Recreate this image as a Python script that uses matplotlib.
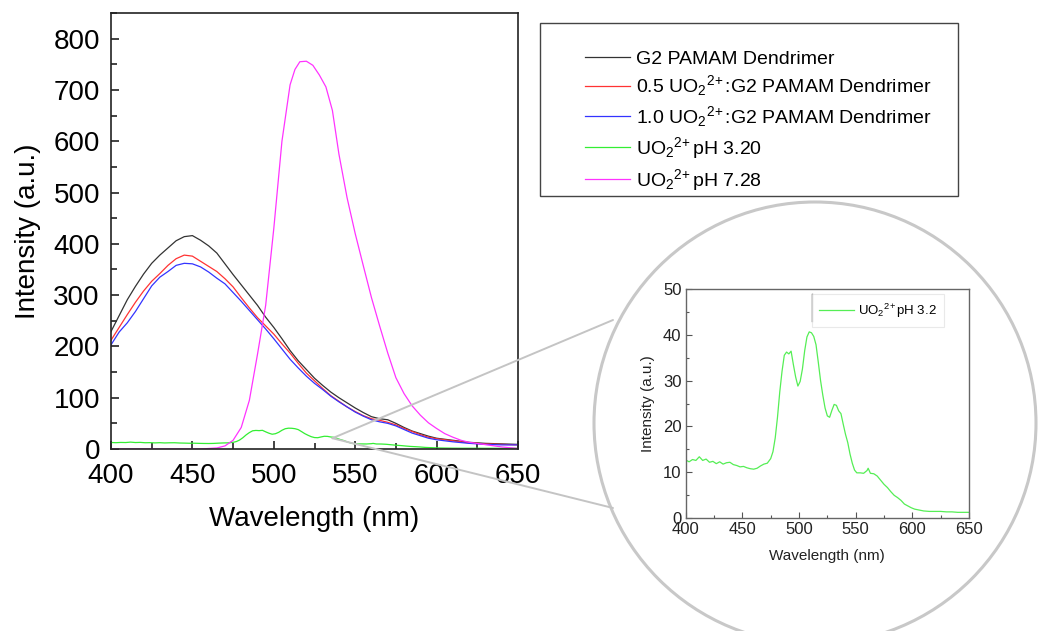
import matplotlib
matplotlib.use('Agg')
import matplotlib.pyplot as plt
from matplotlib.patches import Rectangle, Ellipse, ConnectionPatch
from matplotlib.ticker import MultipleLocator

plt.rcParams['font.family'] = ['Liberation Sans', 'DejaVu Sans']
plt.rcParams['mathtext.fontset'] = 'custom'
plt.rcParams['mathtext.rm'] = 'Liberation Sans'
plt.rcParams['mathtext.it'] = 'Liberation Sans:italic'
plt.rcParams['mathtext.bf'] = 'Liberation Sans:bold'

# G2 PAMAM dendrimer, 5 nm steps
wl_g2 = [400, 405, 410, 415, 420, 425, 430, 435, 440, 445, 450, 455, 460, 465,
         470, 475, 480, 485, 490, 495, 500, 505, 510, 515, 520, 525, 530, 535,
         540, 545, 550, 555, 560, 565, 570, 575, 580, 585, 590, 595, 600, 610,
         620, 630, 640, 650]
g2 = [229, 260, 291, 317, 341, 362, 378, 392, 406, 414, 416, 407, 396, 382,
      361, 340, 320, 300, 280, 257, 237, 215, 192, 172, 155, 138, 124, 111,
      100, 90, 80, 71, 63, 59, 57, 50, 42, 35, 30, 25, 21, 17,
      13, 11, 10, 9]
uo_05 = [212, 237, 262, 286, 308, 327, 342, 358, 371, 378, 376, 366, 356, 346,
         332, 316, 295, 275, 256, 240, 224, 205, 187, 167, 148, 133, 118, 104,
         93, 82, 73, 65, 59, 56, 52, 47, 40, 34, 28, 23, 20, 16,
         12, 10, 9, 8]
uo_10 = [203, 228, 246, 268, 293, 318, 335, 346, 358, 362, 361, 355, 345, 333,
         322, 305, 288, 270, 252, 234, 215, 195, 175, 158, 142, 128, 116, 103,
         92, 82, 72, 64, 57, 53, 50, 45, 38, 31, 26, 21, 18, 14,
         11, 9, 8, 8]

# uranyl at pH 7.28
wl_ph728 = [400, 420, 440, 455, 460, 465, 470, 475, 480, 485, 490, 495, 500,
            505, 510, 513, 516, 520, 524, 528, 532, 536, 540, 545, 550, 555,
            560, 565, 570, 575, 580, 585, 590, 595, 600, 605, 610, 615, 620,
            630, 640, 650]
ph728 = [0, 0, 0, 0, 1, 2, 6, 17, 42, 95, 185, 280, 430,
         600, 710, 740, 755, 756, 748, 729, 706, 660, 575, 490, 420, 357,
         295, 240, 187, 139, 108, 84, 66, 51, 40, 30, 23, 17, 13,
         8.5, 4, 1]

# uranyl at pH 3.20 (also shown in the inset)
wl_ph320 = [400, 403, 406, 409, 412, 415, 418, 421, 424, 427, 430, 433, 436,
            439, 442, 445, 448, 451, 454, 457, 460, 463, 466, 469, 472, 475,
            477, 479, 481, 483, 485, 487, 489, 491, 493, 495, 497, 499, 501,
            503, 505, 507, 509, 511, 513, 515, 517, 519, 521, 523, 525, 527,
            529, 531, 533, 535, 537, 539, 541, 543, 545, 547, 549, 551, 554,
            557, 560, 561, 563, 566, 569, 572, 575, 578, 581, 584, 587, 590,
            593, 596, 599, 602, 606, 610, 615, 620, 625, 630, 635, 640, 645, 650]
ph320 = [12.7, 12.3, 12.8, 12.6, 13.4, 12.6, 12.9, 12.2, 12.4, 11.9, 12.3, 11.8, 12.1,
         12.2, 11.7, 11.5, 11.2, 11.3, 11.0, 10.8, 10.7, 10.9, 11.4, 11.8, 12.0, 13.0,
         14.5, 17.5, 22.0, 27.5, 32.0, 35.5, 36.2, 35.8, 36.4, 33.5, 30.8, 28.8, 29.8,
         32.5, 36.5, 39.5, 40.6, 40.4, 39.6, 37.8, 34.0, 30.0, 26.8, 24.0, 22.3, 22.0,
         23.5, 24.8, 24.6, 23.4, 22.8, 20.5, 18.3, 16.5, 14.0, 12.0, 10.5, 9.9, 9.9,
         9.8, 10.4, 10.9, 9.8, 9.7, 9.2, 8.3, 7.4, 6.7, 5.8, 5.0, 4.5, 3.9,
         3.1, 2.7, 2.3, 2.0, 1.8, 1.6, 1.5, 1.5, 1.5, 1.4, 1.4, 1.3, 1.3, 1.3]

labels = ['G2 PAMAM Dendrimer',
          r'0.5 UO$_2{}^{2\!+}$:G2 PAMAM Dendrimer',
          r'1.0 UO$_2{}^{2\!+}$:G2 PAMAM Dendrimer',
          r'UO$_2{}^{2\!+}$pH 3.20',
          r'UO$_2{}^{2\!+}$pH 7.28']
colors = ['#333333', '#ff3333', '#3333ff', '#33ee33', '#ff33ff']

W, H = 1038, 631
fig = plt.figure(figsize=(W / 100, H / 100), dpi=100)

# main panel
ax = fig.add_axes([111 / W, 1 - 449 / H, 407 / W, 436 / H])
lines = []
lines += ax.plot(wl_g2, g2, color=colors[0], lw=0.9)
lines += ax.plot(wl_g2, uo_05, color=colors[1], lw=0.9)
lines += ax.plot(wl_g2, uo_10, color=colors[2], lw=0.9)
lines += ax.plot(wl_ph320, ph320, color=colors[3], lw=0.9)
lines += ax.plot(wl_ph728, ph728, color=colors[4], lw=0.9)
ax.set_xlim(400, 650)
ax.set_ylim(0, 850)
ax.xaxis.set_major_locator(MultipleLocator(50))
ax.xaxis.set_minor_locator(MultipleLocator(25))
ax.yaxis.set_major_locator(MultipleLocator(100))
ax.yaxis.set_minor_locator(MultipleLocator(50))
ax.tick_params(which='both', direction='in', labelsize=20, width=1.2, color='#222222')
ax.tick_params(axis='x', pad=10)
ax.tick_params(axis='y', pad=8)
ax.tick_params(which='major', length=6)
ax.tick_params(which='minor', length=4)
ax.set_yticks(range(0, 801, 100))
for s in ax.spines.values():
    s.set_linewidth(1.2)
    s.set_color('#222222')
ax.set_xlabel('Wavelength (nm)', fontsize=20, labelpad=12)
ax.set_ylabel('Intensity (a.u.)', fontsize=20, labelpad=9)

# legend box
fig.add_artist(Rectangle((540 / W, 1 - 196 / H), 418 / W, 173 / H, transform=fig.transFigure,
                         fill=False, edgecolor='#444444', lw=1.0))
fig.legend(lines, labels, loc='upper left', bbox_to_anchor=(585 / W, 1 - 50 / H),
           frameon=False, fontsize=14, handlelength=2.3, handletextpad=0.3,
           labelspacing=0.3, borderpad=0, borderaxespad=0)

# magnifier circle and connectors
fig.add_artist(Ellipse((815 / W, 1 - 423 / H), 442 / W, 442 / H, transform=fig.transFigure,
                       fill=False, edgecolor='#c8c8c8', lw=2.2))
for yb in (320, 508):
    con = ConnectionPatch(xyA=(536, 21), coordsA=ax.transData,
                          xyB=(613 / W, 1 - yb / H), coordsB=fig.transFigure,
                          color='#c4c4c4', lw=1.4)
    fig.add_artist(con)

# inset
axi = fig.add_axes([685.7 / W, 1 - 518.3 / H, 283.3 / W, 229.6 / H])
axi.plot(wl_ph320, ph320, color='#55ee55', lw=0.9, label=r'UO$_2{}^{2\!+}$pH 3.2')
axi.set_xlim(400, 650)
axi.set_ylim(0, 50)
axi.xaxis.set_major_locator(MultipleLocator(50))
axi.xaxis.set_minor_locator(MultipleLocator(25))
axi.yaxis.set_major_locator(MultipleLocator(10))
axi.yaxis.set_minor_locator(MultipleLocator(5))
axi.tick_params(which='both', direction='in', labelsize=12, pad=3, width=0.8,
                color='#555555', labelcolor='#222222')
axi.tick_params(which='major', length=4)
axi.tick_params(which='minor', length=2.5)
for s in axi.spines.values():
    s.set_linewidth(1.0)
    s.set_color('#666666')
axi.set_xlabel('Wavelength (nm)', fontsize=11, labelpad=8, color='#222222')
axi.set_ylabel('Intensity (a.u.)', fontsize=11, labelpad=6, color='#222222')
leg = axi.legend(loc='upper left', bbox_to_anchor=(0.446, 0.975), fontsize=9.5,
                 fancybox=False, edgecolor='#e4e4e4', handlelength=2.6,
                 handletextpad=0.3, borderpad=0.55, borderaxespad=0)
leg.get_frame().set_linewidth(0.8)
axi.plot([0.446, 0.446], [0.86, 0.975], transform=axi.transAxes, color='#333333', lw=1.0)

fig.savefig('out.png', dpi=100)
